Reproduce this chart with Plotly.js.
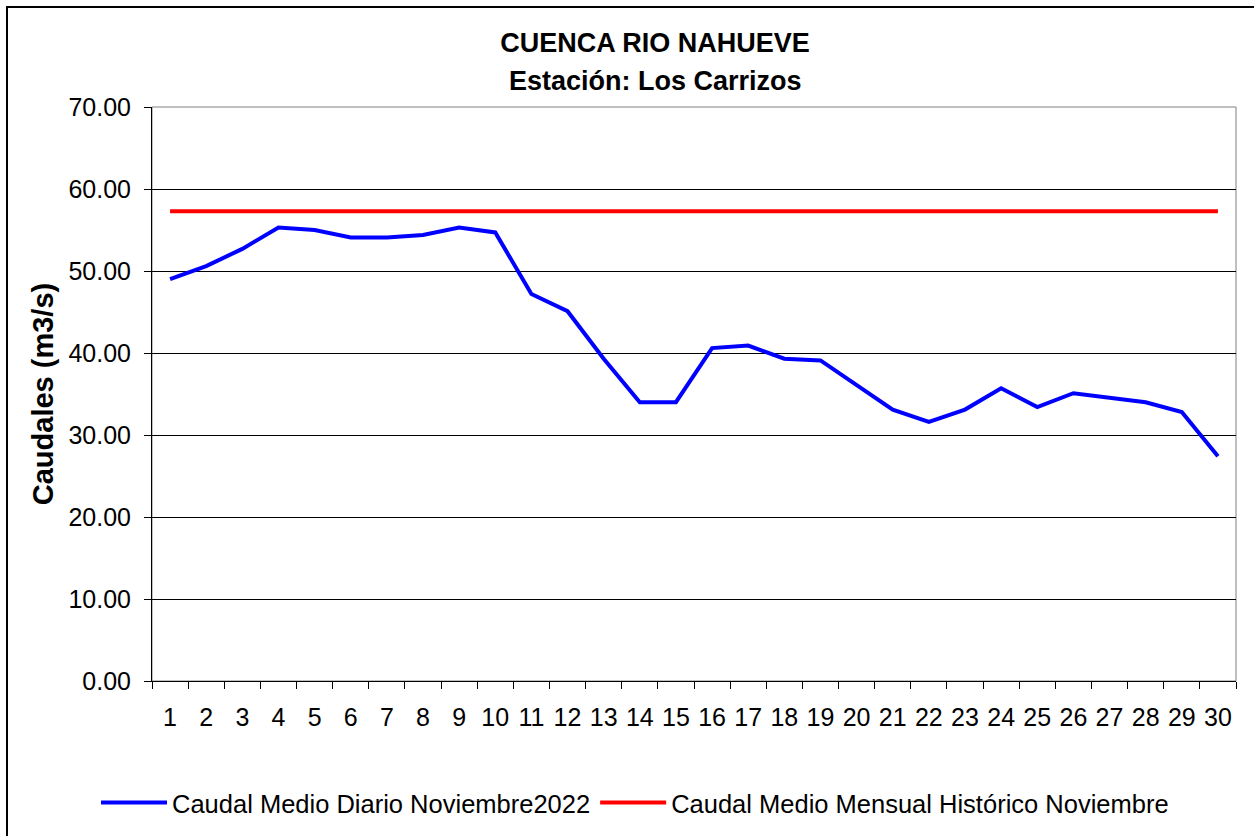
<!DOCTYPE html>
<html>
<head>
<meta charset="utf-8">
<script src="https://cdn.plot.ly/plotly-3.0.1.min.js"></script>
<style>
html,body{margin:0;padding:0;background:#fff;}
#chart{width:1254px;height:836px;}
</style>
</head>
<body>
<div id="chart"></div>
<script>
const days = ["1","2","3","4","5","6","7","8","9","10","11","12","13","14","15","16","17","18","19","20","21","22","23","24","25","26","27","28","29","30"];
const caudalDiario = [49.0,50.6,52.7,55.3,55.0,54.1,54.1,54.4,55.3,54.7,47.2,45.1,39.3,34.0,34.0,40.6,40.9,39.3,39.1,36.1,33.1,31.6,33.1,35.7,33.4,35.1,34.6,34.0,32.8,27.4];
const caudalHistorico = [57.3,57.3,57.3,57.3,57.3,57.3,57.3,57.3,57.3,57.3,57.3,57.3,57.3,57.3,57.3,57.3,57.3,57.3,57.3,57.3,57.3,57.3,57.3,57.3,57.3,57.3,57.3,57.3,57.3,57.3];
const yTicks = [0,10,20,30,40,50,60,70];
const yTickLabels = ["0.00","10.00","20.00","30.00","40.00","50.00","60.00","70.00"];
const seriesNames = ["Caudal Medio Diario Noviembre2022","Caudal Medio Mensual Histórico Noviembre"];
const titleLines = ["CUENCA RIO NAHUEVE","Estación: Los Carrizos"];

const FONT = "Liberation Sans, Arial, sans-serif";

const traces = [
  {x: days, y: caudalDiario, type: "scatter", mode: "lines", name: seriesNames[0],
   line: {color: "#0000FF", width: 4}},
  {x: days, y: caudalHistorico, type: "scatter", mode: "lines", name: seriesNames[1],
   line: {color: "#FF0000", width: 4}}
];

const layout = {
  width: 1254, height: 836,
  margin: {l: 152, r: 18, t: 107, b: 155, pad: 0},
  paper_bgcolor: "#fff", plot_bgcolor: "#fff",
  font: {family: FONT, size: 25, color: "#000"},
  title: {
    text: "<b>" + titleLines[0] + "</b>",
    font: {family: FONT, size: 27, color: "#000"},
    x: 655 / 1254, xanchor: "center", xref: "container",
    y: 1 - 43 / 836, yanchor: "middle", yref: "container"
  },
  annotations: [
    {text: "<b>" + titleLines[1] + "</b>", xref: "paper", yref: "paper",
     x: (655 - 152) / 1084, y: (681 - 81) / 574, xanchor: "center", yanchor: "middle",
     showarrow: false, font: {family: FONT, size: 27, color: "#000"}}
  ],
  xaxis: {
    type: "category", range: [-0.5, 29.5],
    showgrid: false, zeroline: false,
    showline: true, linecolor: "#000", linewidth: 1,
    ticks: "outside", tickson: "boundaries", ticklen: 7, tickcolor: "#000", tickwidth: 1,
    tickangle: 0,
    tickfont: {family: FONT, size: 25, color: "#000"},
    ticklabelstandoff: 14,
    fixedrange: true
  },
  yaxis: {
    range: [0, 70], tickvals: yTicks, ticktext: yTickLabels,
    showgrid: true, gridcolor: "#000", gridwidth: 1,
    zeroline: false,
    showline: true, linecolor: "#000", linewidth: 1,
    ticks: "outside", ticklen: 7, tickcolor: "#000", tickwidth: 1,
    tickfont: {family: FONT, size: 25, color: "#000"},
    ticklabelstandoff: 8,
    title: {text: "<b>Caudales (m3/s)</b>", font: {family: FONT, size: 29, color: "#000"}, standoff: 6},
    fixedrange: true
  },
  showlegend: true,
  legend: {
    orientation: "h", x: 635 / 1254, xanchor: "center", xref: "container",
    y: 1 - 803 / 836, yanchor: "middle", yref: "container",
    font: {family: FONT, size: 25.5, color: "#000"},
    bgcolor: "rgba(0,0,0,0)", itemwidth: 66, tracegroupgap: 0
  },
  shapes: [
    {type: "rect", xref: "paper", yref: "paper", x0: 0, x1: 1, y0: 0, y1: 1,
     line: {color: "#808080", width: 1}, layer: "below"},
    {type: "rect", xref: "paper", yref: "paper",
     x0: (7 - 152) / 1084, x1: (1300 - 152) / 1084,
     y0: (681 - 900) / 574, y1: (681 - 7) / 574,
     line: {color: "#000", width: 2}, layer: "below"}
  ]
};

Plotly.newPlot("chart", traces, layout, {displayModeBar: false, staticPlot: true});
</script>
</body>
</html>
